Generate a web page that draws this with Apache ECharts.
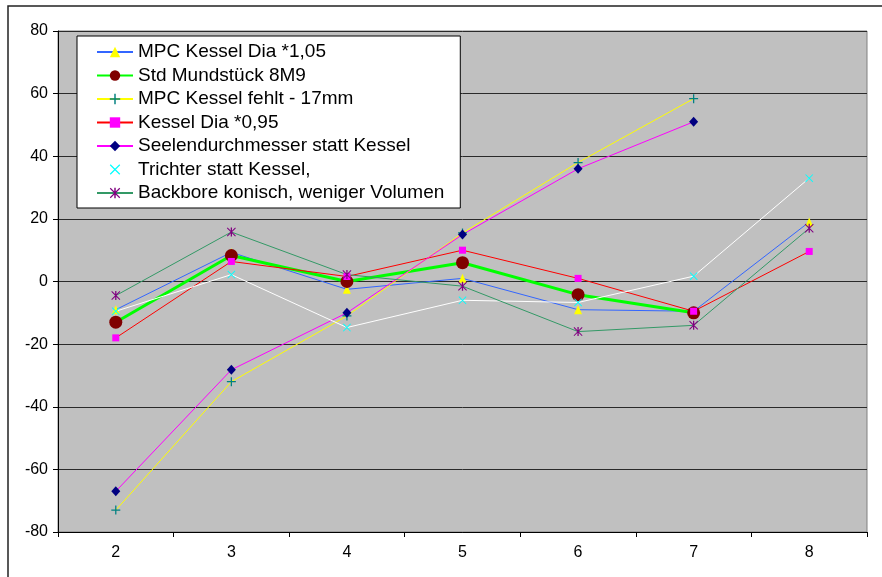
<!DOCTYPE html>
<html>
<head>
<meta charset="utf-8">
<script src="https://cdn.jsdelivr.net/npm/echarts@6/dist/echarts.min.js"></script>
<style>
  html, body { margin: 0; padding: 0; background: #fff; }
  #chart { width: 882px; height: 577px; }
</style>
</head>
<body>
<div id="chart"></div>
<script>
// Categories on the x axis
const categories = ['2', '3', '4', '5', '6', '7', '8'];

// Series values per category (null = no measurement)
const dia105   = [-9, 9.3, -2.5, 1, -9, -9.5, 19];
const std8M9   = [-13, 8.3, 0, 6, -4.2, -10, null];
const fehlt17  = [-73, -32, -11, 15.5, 38, 58.4, null];
const dia095   = [-18, 6.4, 1.6, 10, 1, -9.5, 9.6];
const seele    = [-67, -28.2, -10, 15, 36, 51, null];
const trichter = [-9.5, 2.2, -14.7, -6, -6.7, 1.7, 33];
const backbore = [-4.5, 15.8, 2.2, -1.5, -16, -14, 17];

// Series names
const names = [
  'MPC Kessel Dia *1,05',
  'Std Mundstück 8M9',
  'MPC Kessel fehlt - 17mm',
  'Kessel Dia *0,95',
  'Seelendurchmesser statt Kessel',
  'Trichter statt Kessel,',
  'Backbore konisch, weniger Volumen'
];

// Stroke-like marker shapes built from thin filled bars
const plusPath = 'path://M-0.7,-5h1.4v10h-1.4zM-5,-0.7h10v1.4h-10z';
const crossPath = 'path://M-5,-4.2L-4.2,-5L5,4.2L4.2,5ZM4.2,-5L5,-4.2L-4.2,5L-5,4.2Z';
const starPath = 'path://M-5,-4.2L-4.2,-5L5,4.2L4.2,5ZM4.2,-5L5,-4.2L-4.2,5L-5,4.2ZM-0.7,-5h1.4v10h-1.4z';

function lineSeries(name, data, lineColor, lineWidth, symbol, symbolSize, markColor) {
  return {
    name: name,
    type: 'line',
    data: data,
    symbol: symbol,
    symbolSize: symbolSize,
    showAllSymbol: true,
    connectNulls: false,
    lineStyle: { color: lineColor, width: lineWidth },
    itemStyle: { color: markColor, borderWidth: 0 },
    emphasis: { disabled: true }
  };
}

const chart = echarts.init(document.getElementById('chart'));
chart.setOption({
  animation: false,
  backgroundColor: '#ffffff',
  textStyle: { fontFamily: 'Liberation Sans, Arial, sans-serif' },
  graphic: [{
    type: 'rect',
    shape: { x: 8, y: 6, width: 900, height: 600 },
    style: { fill: 'none', stroke: '#222', lineWidth: 1.5 },
    silent: true,
    z: -10
  }],
  grid: {
    left: 58, top: 31, right: 15, bottom: 45,
    show: true,
    backgroundColor: '#c0c0c0',
    borderColor: '#808080',
    borderWidth: 1
  },
  legend: {
    orient: 'vertical',
    left: 77,
    top: 36,
    backgroundColor: '#ffffff',
    borderColor: '#000000',
    borderWidth: 1,
    borderRadius: 0,
    padding: [6, 16, 5, 19],
    itemWidth: 36,
    itemHeight: 13,
    itemGap: 3.5,
    textStyle: {
      fontFamily: 'Liberation Sans, Arial, sans-serif',
      fontSize: 19,
      color: '#000',
      lineHeight: 20
    },
    data: names
  },
  xAxis: {
    type: 'category',
    data: categories,
    boundaryGap: true,
    axisLine: { onZero: false, lineStyle: { color: '#000', width: 1 } },
    axisTick: { show: true, length: 5, inside: false, lineStyle: { color: '#000' } },
    axisLabel: { color: '#000', fontSize: 16, margin: 13, fontFamily: 'Liberation Sans, Arial, sans-serif' },
    splitLine: { show: false }
  },
  yAxis: {
    type: 'value',
    min: -80,
    max: 80,
    interval: 20,
    axisLine: { show: true, lineStyle: { color: '#000', width: 1 } },
    axisTick: { show: true, length: 5, inside: false, lineStyle: { color: '#000' } },
    axisLabel: { color: '#000', fontSize: 16, margin: 10, fontFamily: 'Liberation Sans, Arial, sans-serif' },
    splitLine: { show: true, lineStyle: { color: '#2a2a2a', width: 1 } }
  },
  series: [
    lineSeries(names[0], dia105,   '#3366ff', 1, 'triangle', [8, 9],  '#ffff00'),
    lineSeries(names[1], std8M9,   '#00ff00', 3, 'circle',   13,      '#800000'),
    lineSeries(names[2], fehlt17,  '#ffff00', 1, plusPath,   9,       '#008080'),
    lineSeries(names[3], dia095,   '#ff0000', 1, 'rect',     7,       '#ff00ff'),
    lineSeries(names[4], seele,    '#ff00ff', 1, 'diamond',  [9, 10], '#000080'),
    lineSeries(names[5], trichter, '#ffffff', 1, crossPath,  8,       '#00ffff'),
    lineSeries(names[6], backbore, '#339966', 1, starPath,   9,       '#800080')
  ]
});
</script>
</body>
</html>
